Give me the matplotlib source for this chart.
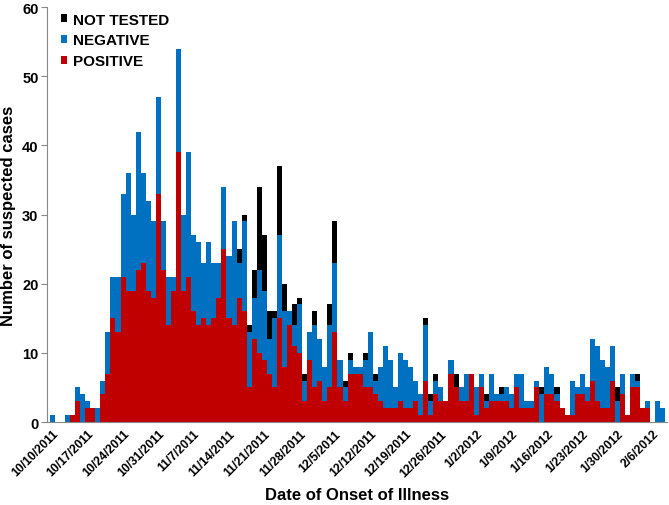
import numpy as np
import matplotlib
matplotlib.use('Agg')
import matplotlib.pyplot as plt
from matplotlib.transforms import ScaledTranslation

plt.rcParams['font.family'] = ['Liberation Sans', 'DejaVu Sans']
plt.rcParams['font.weight'] = 'bold'

# daily counts starting 10/10/2011
positive = [0, 0, 0, 0, 1, 3, 0, 2, 2, 0,
            4, 7, 15, 13, 21, 19, 19, 22, 23, 19,
            18, 33, 22, 14, 19, 39, 19, 21, 16, 14,
            15, 14, 15, 18, 25, 15, 14, 18, 16, 5,
            12, 10, 9, 7, 5, 15, 8, 14, 11, 10,
            3, 9, 5, 6, 3, 5, 13, 5, 3, 7,
            7, 7, 5, 5, 4, 3, 2, 2, 2, 3,
            2, 2, 3, 1, 6, 1, 4, 3, 3, 7,
            5, 3, 3, 7, 1, 5, 2, 3, 3, 3,
            3, 2, 5, 2, 2, 2, 5, 0, 4, 4,
            3, 2, 1, 1, 4, 4, 3, 6, 3, 2,
            2, 6, 0, 4, 1, 5, 5, 2, 2, 0,
            0, 0]
negative = [1, 0, 0, 1, 0, 2, 4, 1, 0, 2,
            2, 6, 6, 8, 12, 17, 11, 20, 13, 13,
            11, 14, 7, 7, 2, 15, 11, 18, 11, 12,
            8, 12, 8, 5, 9, 9, 15, 5, 13, 8,
            6, 12, 10, 5, 10, 12, 8, 2, 3, 7,
            3, 4, 9, 6, 5, 9, 10, 4, 2, 2,
            1, 1, 4, 8, 2, 5, 9, 7, 3, 7,
            7, 6, 3, 3, 8, 2, 2, 2, 0, 2,
            0, 2, 4, 0, 4, 2, 1, 4, 1, 1,
            2, 2, 2, 5, 1, 1, 1, 4, 4, 3,
            1, 0, 0, 5, 1, 3, 2, 6, 8, 7,
            6, 5, 3, 3, 0, 2, 1, 0, 1, 0,
            3, 2]
not_tested = [0, 0, 0, 0, 0, 0, 0, 0, 0, 0,
              0, 0, 0, 0, 0, 0, 0, 0, 0, 0,
              0, 0, 0, 0, 0, 0, 0, 0, 0, 0,
              0, 0, 0, 0, 0, 0, 0, 2, 1, 1,
              4, 12, 8, 4, 1, 10, 4, 0, 3, 1,
              1, 0, 2, 0, 0, 3, 6, 0, 1, 1,
              0, 0, 1, 0, 1, 0, 0, 0, 0, 0,
              0, 0, 0, 0, 1, 1, 1, 0, 0, 0,
              2, 0, 0, 0, 0, 0, 1, 0, 0, 1,
              0, 0, 0, 0, 0, 0, 0, 1, 0, 0,
              1, 0, 0, 0, 0, 0, 0, 0, 0, 0,
              0, 0, 2, 0, 0, 0, 1, 0, 0, 0,
              0, 0]
tick_labels = ['10/10/2011', '10/17/2011', '10/24/2011', '10/31/2011', '11/7/2011',
               '11/14/2011', '11/21/2011', '11/28/2011', '12/5/2011', '12/12/2011',
               '12/19/2011', '12/26/2011', '1/2/2012', '1/9/2012', '1/16/2012',
               '1/23/2012', '1/30/2012', '2/6/2012']

pos = np.array(positive)
neg = np.array(negative)
nt = np.array(not_tested)
x = np.arange(len(pos))

fig = plt.figure(figsize=(6.69, 5.06), dpi=100)
ax = fig.add_axes([0.070, 0.164, 0.927, 0.820])

red = '#C00000'
blue = '#0070C0'
ax.bar(x, pos, width=1.0, color=red, label='POSITIVE', linewidth=0)
ax.bar(x, neg, width=1.0, bottom=pos, color=blue, label='NEGATIVE', linewidth=0)
ax.bar(x, nt, width=1.0, bottom=pos + neg, color='black', label='NOT TESTED', linewidth=0)

ax.set_xlim(-1.1, 121.8)
ax.set_ylim(0, 60)
ax.set_yticks(range(0, 61, 10))
ax.set_xticks(range(0, len(pos), 7))
ax.set_xticklabels(tick_labels, rotation=45, ha='right', rotation_mode='anchor',
                   fontsize=8.7, fontweight='bold')
shift = ScaledTranslation(-0.09, 0, fig.dpi_scale_trans)
for lbl in ax.get_xticklabels():
    lbl.set_transform(lbl.get_transform() + shift)
ax.tick_params(axis='x', length=0, pad=4)
ax.tick_params(axis='y', length=4, direction='out', labelsize=10.5, color='#888888', pad=2)
for lbl in ax.get_yticklabels():
    lbl.set_fontweight('bold')

for s in ['top', 'right']:
    ax.spines[s].set_visible(False)
for s in ['left', 'bottom']:
    ax.spines[s].set_color('#888888')

ax.set_ylabel('Number of suspected cases', fontsize=12, fontweight='bold', labelpad=4)
ax.set_xlabel('Date of Onset of Illness', fontsize=12, fontweight='bold', labelpad=6)

h, l = ax.get_legend_handles_labels()
ax.legend(h[::-1], l[::-1], loc='upper left', bbox_to_anchor=(0.0, 1.02), frameon=False,
          handlelength=0.45, handleheight=0.45, handletextpad=0.35, labelspacing=0.45,
          prop={'weight': 'bold', 'size': 11})

fig.savefig('out.png', dpi=100)
